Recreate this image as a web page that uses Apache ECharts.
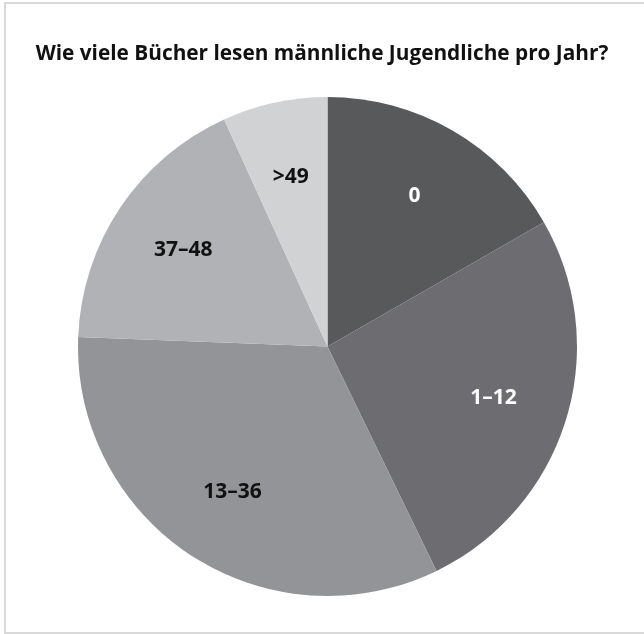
<!DOCTYPE html>
<html>
<head>
<meta charset="utf-8">
<script src="https://cdn.jsdelivr.net/npm/echarts@6/dist/echarts.min.js"></script>
<style>
  html, body { margin: 0; padding: 0; background: #fff; }
  #frame { position: absolute; left: 4px; top: 2px; width: 644px; height: 632px; border: 2px solid #d9d9d9; box-sizing: border-box; }
  #chart { position: absolute; left: 0; top: 0; width: 644px; height: 634px; }
</style>
</head>
<body>
<div id="frame"></div>
<div id="chart"></div>
<script>
const titleText = 'Wie viele Bücher lesen männliche Jugendliche pro Jahr?';
const categories = ['0', '1–12', '13–36', '37–48', '>49'];
const shares = [16.7, 26.1, 32.8, 17.6, 6.8];
const sliceColors = ['#58595b', '#6d6c70', '#939497', '#b1b2b5', '#d1d2d4'];
const labelColors = ['#ffffff', '#ffffff', '#111111', '#111111', '#111111'];

const pieData = categories.map((c, i) => ({
  name: c,
  value: shares[i],
  itemStyle: { color: sliceColors[i] }
}));
const labelData = categories.map((c, i) => ({
  name: c,
  value: shares[i],
  itemStyle: { color: 'rgba(0,0,0,0)' },
  label: { color: labelColors[i] }
}));

const chart = echarts.init(document.getElementById('chart'), null, { renderer: 'canvas' });
chart.setOption({
  animation: false,
  title: {
    text: titleText,
    left: 'center',
    top: 39,
    textStyle: { fontFamily: 'Open Sans', fontWeight: 'bold', fontSize: 20.8, color: '#111' }
  },
  series: [
    {
      type: 'pie',
      center: [327.5, 346.5],
      radius: [0, 249.5],
      startAngle: 90,
      clockwise: true,
      silent: true,
      label: { show: false },
      labelLine: { show: false },
      itemStyle: { borderWidth: 0 },
      data: pieData
    },
    {
      type: 'pie',
      center: [327.5, 346.5],
      radius: [92, 249.5],
      startAngle: 90,
      clockwise: true,
      silent: true,
      itemStyle: { borderWidth: 0 },
      label: {
        show: true,
        position: 'inside',
        formatter: '{b}',
        fontFamily: 'Open Sans',
        fontWeight: 'bold',
        fontSize: 21
      },
      labelLine: { show: false },
      data: labelData
    }
  ]
});
</script>
</body>
</html>
